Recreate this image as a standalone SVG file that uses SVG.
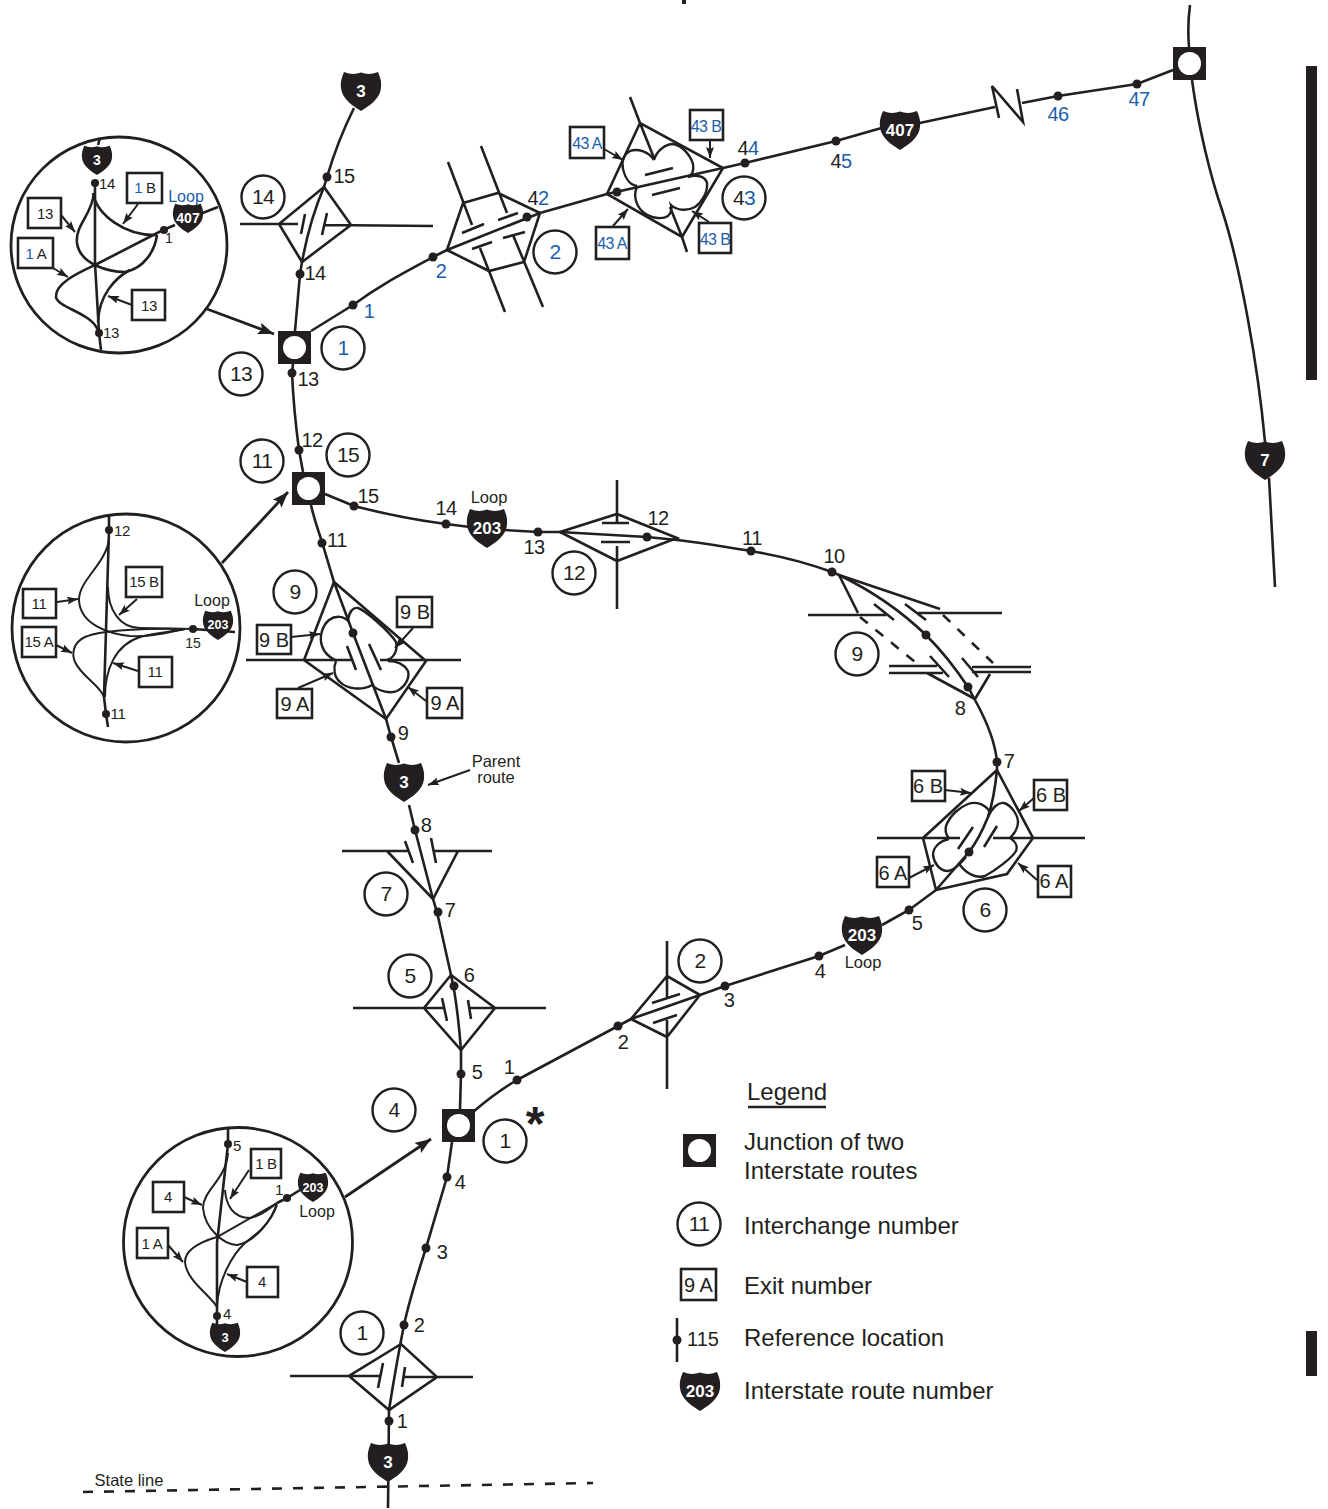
<svg xmlns="http://www.w3.org/2000/svg" width="1328" height="1509" viewBox="0 0 1328 1509">
<style>
text{font-family:"Liberation Sans",Arial,sans-serif;fill:#231f20;text-anchor:middle}
.r{font-size:20px;letter-spacing:-.5px}.s{font-size:15px;letter-spacing:-.3px}.t{font-size:16.5px}
.b,tspan.b{fill:#1b5eab}
.w{fill:#fff;font-weight:bold}
.l{font-size:24px;text-anchor:start}
.ln{fill:none;stroke:#231f20;stroke-width:2.6;stroke-linejoin:miter}
.th{fill:none;stroke:#231f20;stroke-width:2}
.cv{fill:none;stroke:#231f20;stroke-width:2.4}
.ar{fill:none;stroke:#231f20;stroke-width:2;marker-end:url(#ah)}
.arb{fill:none;stroke:#231f20;stroke-width:2.8;marker-end:url(#ahb)}
.bx{fill:#fff;stroke:#231f20;stroke-width:2.6}
.ci{fill:#fff;stroke:#231f20;stroke-width:2.4}
.cl{fill:#fff;stroke:#231f20;stroke-width:2.8}
.d{fill:#231f20}
.k{font-size:21px;letter-spacing:-.6px;transform:translateY(-1px)}
</style>
<defs>
<marker id="ah" markerUnits="userSpaceOnUse" markerWidth="12" markerHeight="10" refX="11" refY="4" orient="auto"><path d="M0,0 L11,4 L0,8 L2,4 Z" fill="#231f20"/></marker>
<marker id="ahb" markerUnits="userSpaceOnUse" markerWidth="18" markerHeight="14" refX="16" refY="6" orient="auto"><path d="M0,0 L16,6 L0,12 L3,6 Z" fill="#231f20"/></marker>
<path id="sh" d="M-17,-19 Q-8,-15.5 0,-18.5 Q8,-15.5 17,-19 C20,-12 20.5,-8 20,-3 C19,8 8,15 0,20 C-8,15 -19,8 -20,-3 C-20.5,-8 -20,-12 -17,-19 Z" fill="#231f20"/>
<g id="jn"><rect x="-16.5" y="-16.5" width="33" height="33" fill="#231f20"/><circle r="11.500" fill="#fff"/></g>
</defs>
<rect width="1328" height="1509" fill="#fff"/>
<rect x="682" y="0" width="4" height="4" fill="#231f20"/>
<rect x="1306" y="66" width="11" height="314" fill="#231f20"/>
<rect x="1306" y="1331" width="11" height="45" fill="#231f20"/>

<g id="connectors">
<path class="ln" d="M388,1508 L389,1410 C393,1385 397,1360 404,1325 C410,1297 419,1270 426,1248 L447,1177 L452,1142"/>
<path class="ln" d="M460,1109 L461,1074 L461,1050 C459,1025 457,1000 451,975 L437,912 L433,899 L415,830 L409,805"/>
<path class="ln" d="M399,763 L391,737 L386,719 L353,633 L334,582 L322,542 C317,527 313,515 311,505"/>
<path class="ln" d="M303,472 L299,450 C295,420 293,395 292,373 L293,364"/>
<path class="ln" d="M295,331 L300,274 L302,262 C307,235 314,210 324,187 L327,177 C335,150 343,130 354,108"/>
<path class="ln" d="M311,331 L353,305 C380,285 405,272 433,257 L447,250 L540,213 L607,194 L723,168 L745,163 L836,141 L885,127"/>
<path class="ln" d="M915,124 L995,107 M999,118 L992,86 L1023,122 L1017,89 M1022,103 L1058,96 L1137,84 L1173,70"/>
<path class="ln" d="M325,494 L354,506 C385,514 415,520 446,524 L470,527"/>
<path class="ln" d="M505,530 L538,532 L560,532 L647,537 L677,540 C705,543 730,548 751,551 C780,556 810,564 832,572 L839,575 C870,590 900,610 926,635 C945,654 958,672 968,687 L975,700 C985,718 995,740 997,762 L997,770"/>
<path class="ln" d="M936,890 L909,910 L882,925"/>
<path class="ln" d="M845,945 L819,956 L725,986 L700,995 L631,1019 L618,1026 L517,1080 C500,1090 487,1100 473,1112"/>
<path class="ln" d="M1190,5 C1188,20 1188,35 1189,47 M1192,80 C1198,125 1210,175 1222,210 C1240,265 1258,365 1265,442 M1269,478 L1275,587"/>
<path class="arb" d="M207,309 L274,334"/>
<path class="arb" d="M222,563 L288,492"/>
<path class="arb" d="M345,1197 L431,1139"/>
<path class="ar" d="M470,770 L428,785"/>
</g>

<g id="interchange-1">
<path class="ln" d="M401,1344 L349,1376 L389,1410 L437,1377 Z M290,1376 L380,1376 M404,1377 L473,1377 M383,1363 L378,1388 M405,1367 L402,1387"/>
<circle class="ci" cx="362" cy="1333" r="21.5"/><text class="k" x="362" y="1341">1</text>
</g>
<g id="interchange-5">
<path class="ln" d="M451,975 L424,1008 L461,1050 L495,1008 Z M353,1008 L444,1008 M470,1008 L546,1008 M442,998 L447,1021 M468,1000 L471,1019"/>
<circle class="ci" cx="410" cy="976" r="21.5"/><text class="k" x="410" y="984">5</text>
</g>
<g id="interchange-7">
<path class="ln" d="M387,851 L433,899 L458,851 M342,851 L409,851 M434,851 L492,851 M405,841 L413,863 M431,838 L436,863"/>
<circle class="ci" cx="386" cy="894" r="21.5"/><text class="k" x="386" y="902">7</text>
</g>
<g id="interchange-2s">
<path class="ln" d="M667,976 L631,1019 L667,1037 L700,995 Z M667,941 L667,997 M667,1020 L667,1089 M652,1003 L680,994 M653,1023 L677,1015"/>
<circle class="ci" cx="700" cy="961" r="21.5"/><text class="k" x="700" y="969">2</text>
</g>
<g id="interchange-6">
<path class="ln" d="M997,770 L923,838 L936,890 L1007,874 L1033,838 Z M877,838 L960,838 M993,838 L1085,838 M973,827 L958,849 M997,826 L984,847 M997,770 C995,790 992,805 988,817 C982,832 976,843 969,852 L936,890"/>
<path class="cv" d="M990,812 C985,804 976,801 968,804 C960,807 950,815 946,826 C945,831 946,835 949,838 M949,839 C940,841 933,847 933,855 C934,863 939,870 947,871 C953,871 961,863 966,857 M988,817 C992,808 998,802 1004,803 C1011,805 1018,815 1018,822 C1018,829 1014,834 1010,838 C1015,841 1018,846 1016,851 C1012,858 996,870 985,876 C976,879 966,873 960,865"/>
<circle class="ci" cx="985" cy="910" r="21.5"/><text class="k" x="985" y="918">6</text>
</g>
<g id="interchange-9e">
<path class="ln" d="M839,575 L940,609 M839,575 L858,613 M808,615 L886,615 M918,613 L1002,613 M889,666 L937,666 M889,673 L943,673 M972,667 L1031,667 M972,672 L1031,672 M874,604 L894,620 M905,604 L926,620 M930,656 L949,677 M962,658 L978,677 M927,673 L975,699 M990,674 L975,699"/>
<path class="ln" stroke-dasharray="10 10" d="M860,617 L915,662 M943,615 L993,663"/>
<circle class="ci" cx="857" cy="654" r="21.5"/><text class="k" x="857" y="662">9</text>
</g>
<g id="interchange-12">
<path class="ln" d="M560,532 L617,514 L677,538 L617,561 Z M617,480 L617,522 M617,546 L617,609 M602,523 L629,523 M601,542 L630,542"/>
<circle class="ci" cx="574" cy="573" r="21.5"/><text class="k" x="574" y="581">12</text>
</g>
<g id="interchange-9w">
<path class="ln" d="M334,582 L304,660 L386,719 L426,661 Z M246,660 L352,660 M380,660 L461,660 M347,646 L356,670 M369,644 L381,670"/>
<path class="cv" d="M349,622 C344,616 336,615 329,620 C322,626 319,637 322,646 C324,652 329,657 335,660 M348,620 C349,612 353,607 358,608 C365,610 390,632 396,642 C398,650 394,658 387,660 M336,661 C333,668 334,677 340,682 C347,689 362,691 372,685 C378,691 390,694 397,691 C405,687 410,678 408,671 C404,664 396,661 388,661"/>
<circle class="ci" cx="295" cy="592" r="21.5"/><text class="k" x="295" y="600">9</text>
</g>
<g id="interchange-14">
<path class="ln" d="M324,187 L279,224 L302,262 L351,225 Z M240,224 L298,224 M325,225 L433,226 M305,214 L301,234 M327,213 L322,235"/>
<circle class="ci" cx="263" cy="197" r="21.5"/><text class="k" x="263" y="205">14</text>
</g>
<g id="interchange-2n">
<path class="ln" d="M447,250 L463,203 L498,193 L540,213 L524,262 L489,271 Z M448,162 L472,225 M481,146 L507,213 M480,248 L505,312 M513,235 L543,307 M462,233 L484,224 M498,220 L518,213 M472,249 L492,242 M503,238 L525,232"/>
<circle class="ci" cx="555" cy="252" r="21.5"/><text class="k b" x="555" y="260">2</text>
</g>
<g id="interchange-43">
<path class="ln" d="M640,123 L607,194 L682,237 L723,168 Z M630,97 L640,123 L654,158 M670,207 L682,237 L687,252 M645,175 L673,168 M652,195 L680,188"/>
<path class="cv" d="M654,160 C649,152 638,148 630,151 C624,154 621,161 623,169 C625,178 630,185 637,186 M654,160 C657,150 666,144 673,144 C681,145 690,154 693,164 C694,170 692,175 688,177 C695,175 705,175 707,183 C708,192 702,202 695,207 C688,211 677,211 671,205 C672,209 671,213 668,216 C662,220 650,218 643,212 C636,206 633,195 637,187"/>
<circle class="ci" cx="744" cy="198" r="21.5"/><text class="k" x="744" y="206">4<tspan class="b">3</tspan></text>
</g>

<g id="junctions">
<use href="#jn" x="294.5" y="347.5"/>
<use href="#jn" x="308.5" y="488.5"/>
<use href="#jn" x="458.5" y="1125.5"/>
<use href="#jn" x="1189.5" y="63.5"/>
</g>

<g id="shields">
<g><use href="#sh" transform="translate(361,91)"/><text class="w" x="361" y="97" font-size="17">3</text></g>
<g><use href="#sh" transform="translate(404,782)"/><text class="w" x="404" y="788" font-size="17">3</text></g>
<g><use href="#sh" transform="translate(388,1462)"/><text class="w" x="388" y="1468" font-size="17">3</text></g>
<g><use href="#sh" transform="translate(900,130)"/><text class="w" x="900" y="136" font-size="17">407</text></g>
<g><use href="#sh" transform="translate(487,528)"/><text class="w" x="487" y="534" font-size="17">203</text></g>
<g><use href="#sh" transform="translate(862,935)"/><text class="w" x="862" y="941" font-size="17">203</text></g>
<g><use href="#sh" transform="translate(1265,460)"/><text class="w" x="1265" y="466" font-size="17">7</text></g>
</g>

<g id="route-labels">
<g class="dots">
<circle class="d" cx="327" cy="177" r="4.5"/><circle class="d" cx="300" cy="274" r="4.5"/><circle class="d" cx="353" cy="305" r="4.5"/><circle class="d" cx="433" cy="257" r="4.5"/><circle class="d" cx="527" cy="217" r="4.5"/><circle class="d" cx="617" cy="192" r="4.5"/><circle class="d" cx="745" cy="163" r="4.5"/><circle class="d" cx="836" cy="141" r="4.5"/><circle class="d" cx="1058" cy="96" r="4.5"/><circle class="d" cx="1137" cy="84" r="4.5"/>
<circle class="d" cx="292" cy="373" r="4.5"/><circle class="d" cx="299" cy="450" r="4.5"/><circle class="d" cx="322" cy="543" r="4.5"/><circle class="d" cx="353" cy="633" r="4.5"/><circle class="d" cx="391" cy="737" r="4.5"/><circle class="d" cx="415" cy="830" r="4.5"/><circle class="d" cx="438" cy="912" r="4.5"/><circle class="d" cx="454" cy="986" r="4.5"/><circle class="d" cx="461" cy="1074" r="4.5"/><circle class="d" cx="447" cy="1177" r="4.5"/><circle class="d" cx="426" cy="1248" r="4.5"/><circle class="d" cx="404" cy="1325" r="4.5"/><circle class="d" cx="389" cy="1421" r="4.5"/>
<circle class="d" cx="354" cy="506" r="4.5"/><circle class="d" cx="446" cy="524" r="4.5"/><circle class="d" cx="538" cy="532" r="4.5"/><circle class="d" cx="647" cy="537" r="4.5"/><circle class="d" cx="751" cy="551" r="4.5"/><circle class="d" cx="832" cy="572" r="4.5"/><circle class="d" cx="926" cy="635" r="4.5"/><circle class="d" cx="968" cy="687" r="4.5"/><circle class="d" cx="997" cy="762" r="4.5"/><circle class="d" cx="969" cy="852" r="4.5"/><circle class="d" cx="909" cy="910" r="4.5"/><circle class="d" cx="819" cy="956" r="4.5"/><circle class="d" cx="725" cy="986" r="4.5"/><circle class="d" cx="618" cy="1026" r="4.5"/><circle class="d" cx="517" cy="1080" r="4.5"/>
</g>
<text class="r" x="344" y="183">15</text><text class="r" x="315" y="280">14</text><text class="r b" x="369" y="318">1</text><text class="r" x="308" y="386">13</text><text class="r" x="312" y="447">12</text><text class="r b" x="441" y="278">2</text><text class="r" x="538" y="205">4<tspan class="b">2</tspan></text><text class="r" x="748" y="155">4<tspan class="b">4</tspan></text><text class="r" x="841" y="168">4<tspan class="b">5</tspan></text><text class="r b" x="1058" y="121">46</text><text class="r b" x="1139" y="106">47</text>
<text class="r" x="368" y="503">15</text><text class="r" x="446" y="515">14</text><text class="t" x="489" y="503">Loop</text><text class="r" x="534" y="554">13</text><text class="r" x="658" y="525">12</text><text class="r" x="752" y="545">11</text><text class="r" x="834" y="563">10</text><text class="r" x="960" y="715">8</text><text class="r" x="1009" y="768">7</text><text class="r" x="917" y="930">5</text><text class="r" x="820" y="978">4</text><text class="t" x="863" y="968">Loop</text><text class="r" x="729" y="1007">3</text><text class="r" x="623" y="1049">2</text><text class="r" x="509" y="1074">1</text><text class="r" x="477" y="1079">5</text><text class="r" x="469" y="982">6</text><text class="r" x="450" y="917">7</text><text class="r" x="426" y="832">8</text><text class="r" x="403" y="740">9</text><text class="r" x="337" y="547">11</text><text class="r" x="460" y="1189">4</text><text class="r" x="442" y="1259">3</text><text class="r" x="419" y="1332">2</text><text class="r" x="402" y="1428">1</text>
<text class="t" x="496" y="767">Parent</text><text class="t" x="496" y="783">route</text>
<text class="t" x="129" y="1486">State line</text>
<text x="535" y="1140" font-size="48" font-weight="bold">*</text>
</g>

<g id="other-circles">
<g><circle class="ci" cx="343" cy="348" r="21.5"/><text class="k b" x="343" y="356">1</text></g>
<g><circle class="ci" cx="241" cy="374" r="21.5"/><text class="k" x="241" y="382">13</text></g>
<g><circle class="ci" cx="262" cy="461" r="21.5"/><text class="k" x="262" y="469">11</text></g>
<g><circle class="ci" cx="348" cy="455" r="21.5"/><text class="k" x="348" y="463">15</text></g>
<g><circle class="ci" cx="394" cy="1110" r="21.5"/><text class="k" x="394" y="1118">4</text></g>
<g><circle class="ci" cx="505" cy="1141" r="21.5"/><text class="k" x="505" y="1149">1</text></g>
</g>

<g id="exit-boxes">
<rect class="bx" x="570" y="127" width="34" height="31"/><text class="b" font-size="16" letter-spacing="-.6" x="587" y="149">43 A</text>
<rect class="bx" x="690" y="110" width="33" height="30"/><text class="b" font-size="16" letter-spacing="-.6" x="706" y="132">43 B</text>
<rect class="bx" x="596" y="227" width="33" height="32"/><text class="b" font-size="16" letter-spacing="-.6" x="612" y="249">43 A</text>
<rect class="bx" x="699" y="223" width="32" height="30"/><text class="b" font-size="16" letter-spacing="-.6" x="715" y="245">43 B</text>
<path class="ar" d="M604,149 L623,160"/><path class="ar" d="M710,140 L710,158"/><path class="ar" d="M613,226 L628,209"/><path class="ar" d="M709,222 L692,211"/>
<rect class="bx" x="257" y="625" width="34" height="29"/><text font-size="20" x="274" y="647">9 B</text>
<rect class="bx" x="397" y="597" width="35" height="30"/><text font-size="20" x="415" y="619">9 B</text>
<rect class="bx" x="277" y="689" width="35" height="29"/><text font-size="20" x="295" y="711">9 A</text>
<rect class="bx" x="427" y="688" width="35" height="30"/><text font-size="20" x="445" y="710">9 A</text>
<path class="ar" d="M291,637 L320,634"/><path class="ar" d="M413,628 L395,648"/><path class="ar" d="M298,688 L333,673"/><path class="ar" d="M426,701 L408,687"/>
<rect class="bx" x="912" y="771" width="33" height="30"/><text font-size="20" x="928" y="793">6 B</text>
<rect class="bx" x="1034" y="780" width="33" height="30"/><text font-size="20" x="1051" y="802">6 B</text>
<rect class="bx" x="877" y="857" width="32" height="30"/><text font-size="20" x="893" y="880">6 A</text>
<rect class="bx" x="1038" y="866" width="33" height="31"/><text font-size="20" x="1054" y="888">6 A</text>
<path class="ar" d="M945,790 L971,793"/><path class="ar" d="M1034,798 L1019,811"/><path class="ar" d="M909,878 L934,865"/><path class="ar" d="M1037,880 L1018,863"/>
</g>

<g id="inset-junction-13">
<circle class="cl" cx="119" cy="245" r="108"/>
<path class="ln" d="M100,138 L98,145 M95,183 L95,263 L99,333 L101,350"/>
<path class="ln" d="M218,207 L200,214 M175,225 L163,230 L95,265"/>
<path class="ln" d="M95,265 C80,272 55,283 56,297 C58,308 90,312 98,330"/>
<path class="ln" d="M93,193 C97,215 125,236 157,235"/>
<path class="ln" d="M94,193 C92,215 75,225 77,243 C80,265 110,272 125,272 C145,268 155,250 157,235"/>
<path class="ln" d="M98,322 C99,295 115,278 130,270"/>
<use href="#sh" transform="translate(97,160) scale(.75)"/><text class="w" x="97" y="165" font-size="14">3</text>
<use href="#sh" transform="translate(188,218) scale(.75)"/><text class="w" x="188" y="223" font-size="14">407</text>
<circle class="d" cx="95" cy="183" r="4"/><circle class="d" cx="99" cy="333" r="4"/><circle class="d" cx="164" cy="230" r="4"/>
<text class="s" x="107" y="189">14</text><text class="s" x="111" y="338">13</text><text font-size="14" x="169" y="243">1</text><text class="b" font-size="16" x="186" y="202">Loop</text>
<rect class="bx" x="127" y="173" width="35" height="30"/><text class="s" x="145" y="193"><tspan class="b">1</tspan> B</text>
<rect class="bx" x="28" y="198" width="33" height="30"/><text class="s" x="45" y="219">13</text>
<rect class="bx" x="18" y="238" width="35" height="30"/><text class="s" x="36" y="259"><tspan class="b">1</tspan> A</text>
<rect class="bx" x="132" y="290" width="33" height="30"/><text class="s" x="149" y="311">13</text>
<path class="ar" d="M138,204 L123,224"/><path class="ar" d="M61,215 L75,232"/><path class="ar" d="M53,268 L68,277"/><path class="ar" d="M132,305 L108,296"/>
</g>

<g id="inset-junction-15">
<circle class="cl" cx="126" cy="628" r="114"/>
<path class="ln" d="M109,515 L109,530 L104,697 L106,714 L108,727"/>
<path class="ln" d="M193,629 L235,632"/>
<path class="th" d="M109,540 C105,565 79,580 79,600 C80,625 110,634 130,636 C150,637 165,633 185,629"/>
<path class="th" d="M108,587 C108,610 120,628 140,628 L193,629"/>
<path class="th" d="M185,629 C150,628 100,630 85,637 C72,643 72,655 75,662 C82,677 100,685 104,697"/>
<path class="th" d="M105,697 C105,670 115,645 140,637 C155,633 170,632 185,629"/>
<use href="#sh" transform="translate(218,625) scale(.75)"/><text class="w" x="218" y="629" font-size="12.5">203</text>
<circle class="d" cx="109" cy="530" r="4"/><circle class="d" cx="106" cy="714" r="4"/><circle class="d" cx="193" cy="629" r="4"/>
<text class="s" x="122" y="536">12</text><text class="s" x="118" y="719">11</text><text font-size="14" x="193" y="648">15</text><text font-size="16" x="212" y="606">Loop</text>
<rect class="bx" x="23" y="589" width="33" height="29"/><text class="s" x="39" y="609">11</text>
<rect class="bx" x="126" y="567" width="36" height="30"/><text class="s" x="144" y="587">15 B</text>
<rect class="bx" x="22" y="627" width="34" height="30"/><text class="s" x="39" y="647">15 A</text>
<rect class="bx" x="139" y="657" width="33" height="30"/><text class="s" x="155" y="677">11</text>
<path class="ar" d="M57,602 L78,599"/><path class="ar" d="M137,599 L119,615"/><path class="ar" d="M56,645 L72,653"/><path class="ar" d="M138,671 L113,663"/>
</g>

<g id="inset-junction-1">
<circle class="cl" cx="238" cy="1242" r="114.5"/>
<path class="ln" d="M228,1128 L228,1144 L217,1243 L217,1316 L217,1325"/>
<path class="ln" d="M300,1190 L287,1198 L277,1203"/>
<path class="th" d="M228,1153 C226,1180 203,1190 203,1208 C205,1230 225,1245 237,1245 C255,1242 272,1220 277,1203"/>
<path class="th" d="M225,1190 C226,1205 233,1218 250,1218 C262,1216 270,1208 277,1203"/>
<path class="th" d="M277,1203 L217,1237 C200,1242 185,1250 185,1262 C186,1280 210,1295 217,1307"/>
<path class="th" d="M217,1307 C218,1280 232,1255 245,1243 C255,1235 270,1225 277,1205"/>
<use href="#sh" transform="translate(225,1337) scale(.75)"/><text class="w" x="225" y="1342" font-size="13">3</text>
<use href="#sh" transform="translate(313,1187) scale(.75)"/><text class="w" x="313" y="1192" font-size="12.5">203</text>
<circle class="d" cx="228" cy="1144" r="4"/><circle class="d" cx="217" cy="1316" r="4"/><circle class="d" cx="287" cy="1198" r="4"/>
<text class="s" x="237" y="1151">5</text><text class="s" x="279" y="1195">1</text><text class="s" x="227" y="1319">4</text><text font-size="16" x="317" y="1217">Loop</text>
<rect class="bx" x="251" y="1149" width="30" height="29"/><text class="s" x="266" y="1169">1 B</text>
<rect class="bx" x="153" y="1182" width="31" height="30"/><text class="s" x="168" y="1202">4</text>
<rect class="bx" x="137" y="1228" width="31" height="30"/><text class="s" x="152" y="1249">1 A</text>
<rect class="bx" x="247" y="1267" width="31" height="30"/><text class="s" x="262" y="1287">4</text>
<path class="ar" d="M249,1170 L230,1199"/><path class="ar" d="M184,1197 L202,1205"/><path class="ar" d="M168,1245 L183,1262"/><path class="ar" d="M247,1282 L227,1274"/>
</g>

<path id="state-line" class="ln" stroke-dasharray="10 11" d="M83,1492 L593,1483"/>

<g id="legend">
<text class="l" x="747" y="1100">Legend</text>
<path class="ln" d="M748,1107 L826,1107"/>
<use href="#jn" x="699.5" y="1150.5"/>
<text class="l" x="744" y="1150">Junction of two</text><text class="l" x="744" y="1179">Interstate routes</text>
<circle class="ci" cx="699" cy="1224" r="21.5"/><text class="k" x="699" y="1232">11</text>
<text class="l" x="744" y="1234">Interchange number</text>
<rect class="bx" x="681" y="1269" width="35" height="31"/><text font-size="20" x="698.5" y="1292">9 A</text>
<text class="l" x="744" y="1294">Exit number</text>
<path class="ln" d="M677,1318 L677,1362"/><circle class="d" cx="677" cy="1340" r="4.5"/>
<text font-size="20" x="703" y="1346">115</text>
<text class="l" x="744" y="1346">Reference location</text>
<use href="#sh" transform="translate(700,1391)"/><text class="w" x="700" y="1397" font-size="17">203</text>
<text class="l" x="744" y="1399">Interstate route number</text>
</g>
</svg>
